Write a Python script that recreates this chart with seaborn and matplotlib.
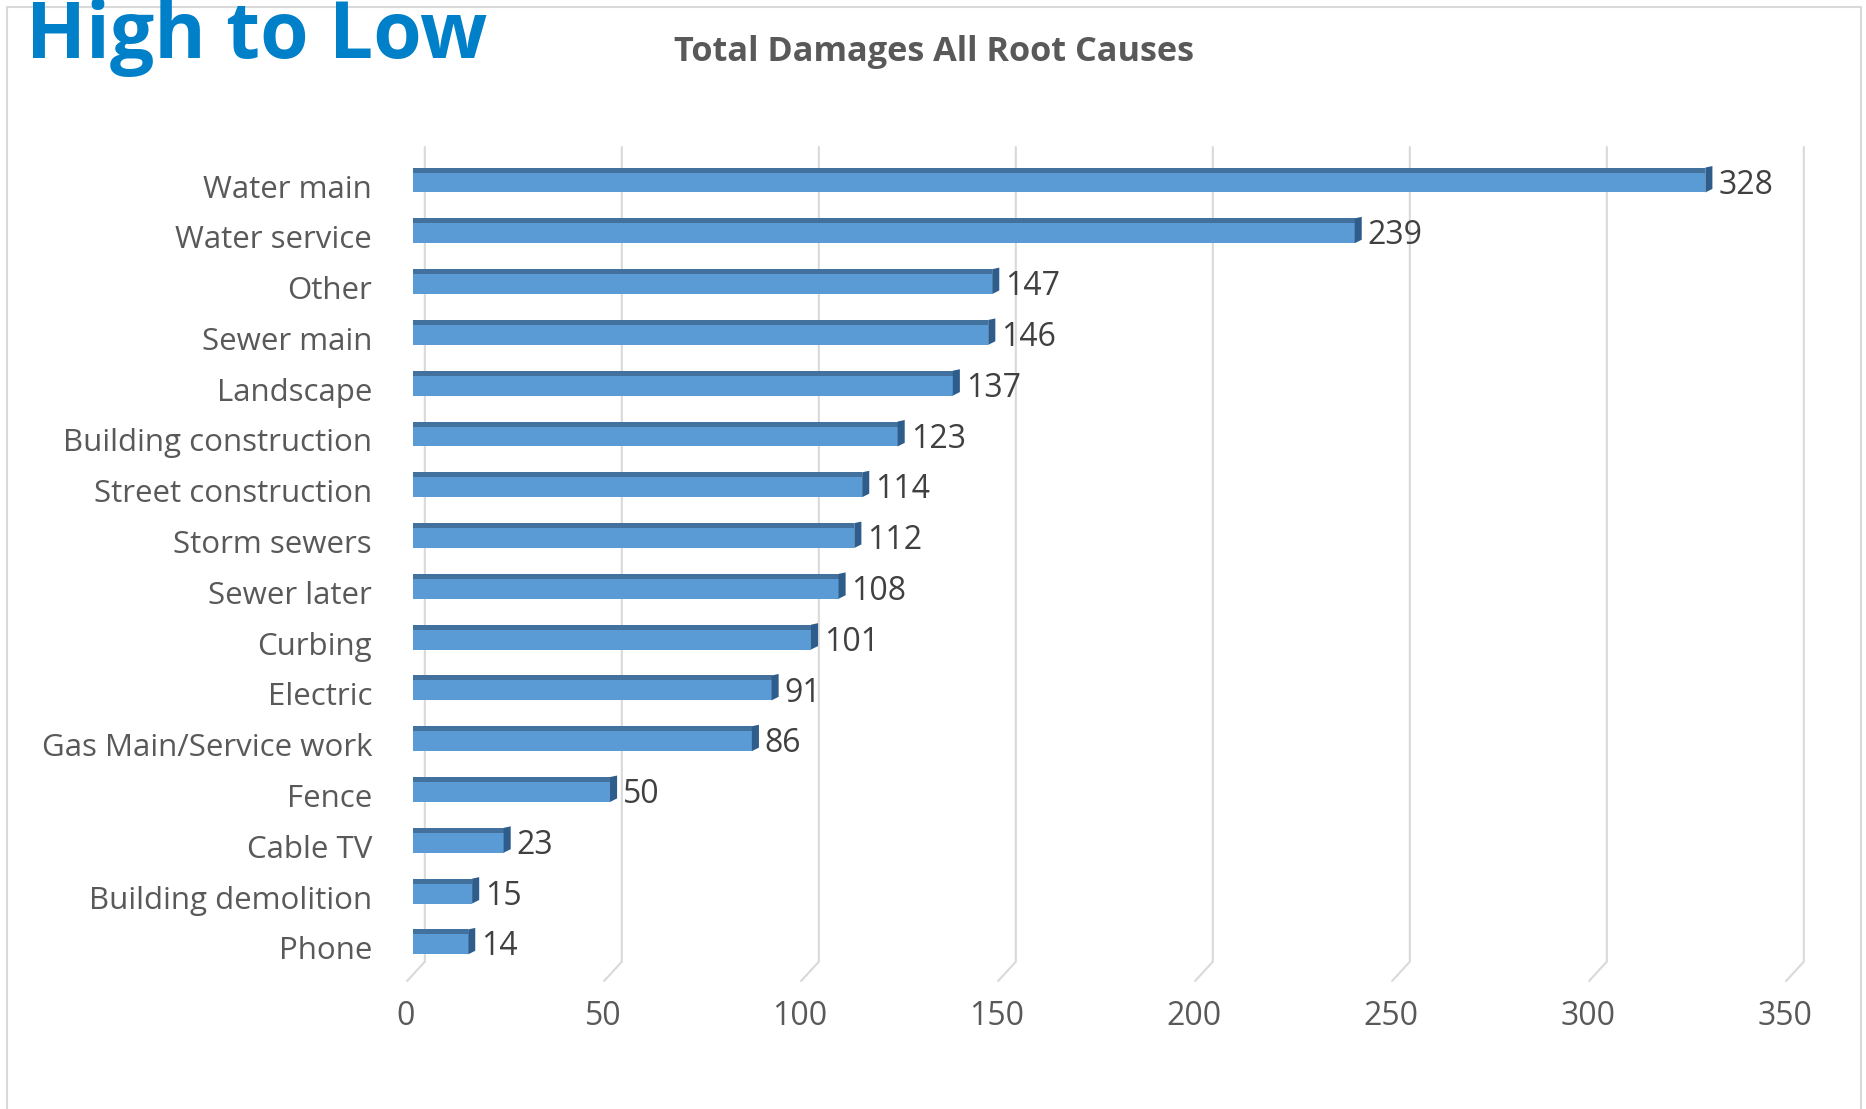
import matplotlib
matplotlib.use("Agg")
import matplotlib.pyplot as plt
import matplotlib.transforms as mtransforms
from matplotlib.lines import Line2D
from matplotlib.patches import Rectangle, Polygon
import pandas as pd
import seaborn as sns

# Chart data
categories = [
    "Water main",
    "Water service",
    "Other",
    "Sewer main",
    "Landscape",
    "Building construction",
    "Street construction",
    "Storm sewers",
    "Sewer later",
    "Curbing",
    "Electric",
    "Gas Main/Service work",
    "Fence",
    "Cable TV",
    "Building demolition",
    "Phone",
]
damages = [328, 239, 147, 146, 137, 123, 114, 112, 108, 101, 91, 86, 50, 23, 15, 14]
x_ticks = [0, 50, 100, 150, 200, 250, 300, 350]

# Style
sns.set_theme(style="white")
plt.rcParams["font.family"] = ["Open Sans", "DejaVu Sans"]

W, H = 1866, 1109
fig = plt.figure(figsize=(W / 100, H / 100), dpi=100)
fig.patch.set_facecolor("white")

# Axes placed in pixel terms of the reference
ax = fig.add_axes([413 / W, 1 - 981 / H, (1792 - 413) / W, (981 - 147) / H])

df = pd.DataFrame({"Cause": categories, "Damages": damages})
sns.barplot(
    data=df,
    x="Damages",
    y="Cause",
    orient="h",
    color="#5B9BD5",
    saturation=1,
    width=0.49,
    linewidth=0,
    ax=ax,
    zorder=3,
)

ax.set_xlim(0, 350)
ax.set_ylim(15.77, -0.65)

# Fake 3D look: darker top strip and a dark end cap on every bar
for p, v in zip(ax.patches, damages):
    x0, y0, w, h = p.get_x(), p.get_y(), p.get_width(), p.get_height()
    ax.add_patch(Rectangle((x0, y0), w, h * 0.2, color="#41719C", lw=0, zorder=4))
    cap = [(x0 + w, y0), (x0 + w + 1.8, y0 - 0.03), (x0 + w + 1.8, y0 + h - 0.07), (x0 + w, y0 + h)]
    ax.add_patch(Polygon(cap, closed=True, color="#2E5D8C", lw=0, zorder=4))
    ax.text(x0 + w + 3.3, y0 + h / 2 + 0.1, str(v), ha="left", va="center",
            fontsize=23, color="#404040", zorder=5)

# Perspective style gridlines on the back wall
for t in x_ticks:
    ax.plot([t + 3, t + 3, t - 1.5], [-0.65, 15.39, 15.77], color="#D9D9D9",
            lw=1.5, zorder=0, clip_on=False, solid_joinstyle="miter")

for s in ax.spines.values():
    s.set_visible(False)

ax.set_xlabel("")
ax.set_ylabel("")
ax.set_xticks(x_ticks)
ax.set_xticklabels([str(t) for t in x_ticks])
ax.tick_params(axis="x", length=0, pad=14, labelsize=23, labelcolor="#595959")
ax.tick_params(axis="y", length=0, pad=29.5, labelsize=22.5, labelcolor="#595959")
shift_x = mtransforms.ScaledTranslation(-7 / 100, 0, fig.dpi_scale_trans)
for lbl in ax.get_xticklabels():
    lbl.set_transform(lbl.get_transform() + shift_x)
shift_y = mtransforms.ScaledTranslation(0, -6 / 100, fig.dpi_scale_trans)
for lbl in ax.get_yticklabels():
    lbl.set_transform(lbl.get_transform() + shift_y)

# Chart title and slide heading
fig.text(934 / W, 1 - 61 / H, "Total Damages All Root Causes", ha="center",
         va="baseline", fontsize=24.7, fontweight="bold", color="#595959")
fig.text(26 / W, 1 - 58 / H, "High to Low", ha="left", va="baseline",
         fontsize=56.4, fontweight="bold", color="#0080C8")

# Light frame around the chart (open at the bottom)
fig.add_artist(Line2D([7 / W, 7 / W, 1861 / W, 1861 / W], [0, 1 - 7 / H, 1 - 7 / H, 0],
                      color="#D9D9D9", lw=1.5, transform=fig.transFigure, zorder=1))

fig.savefig("out.png", dpi=100)
plt.close(fig)
